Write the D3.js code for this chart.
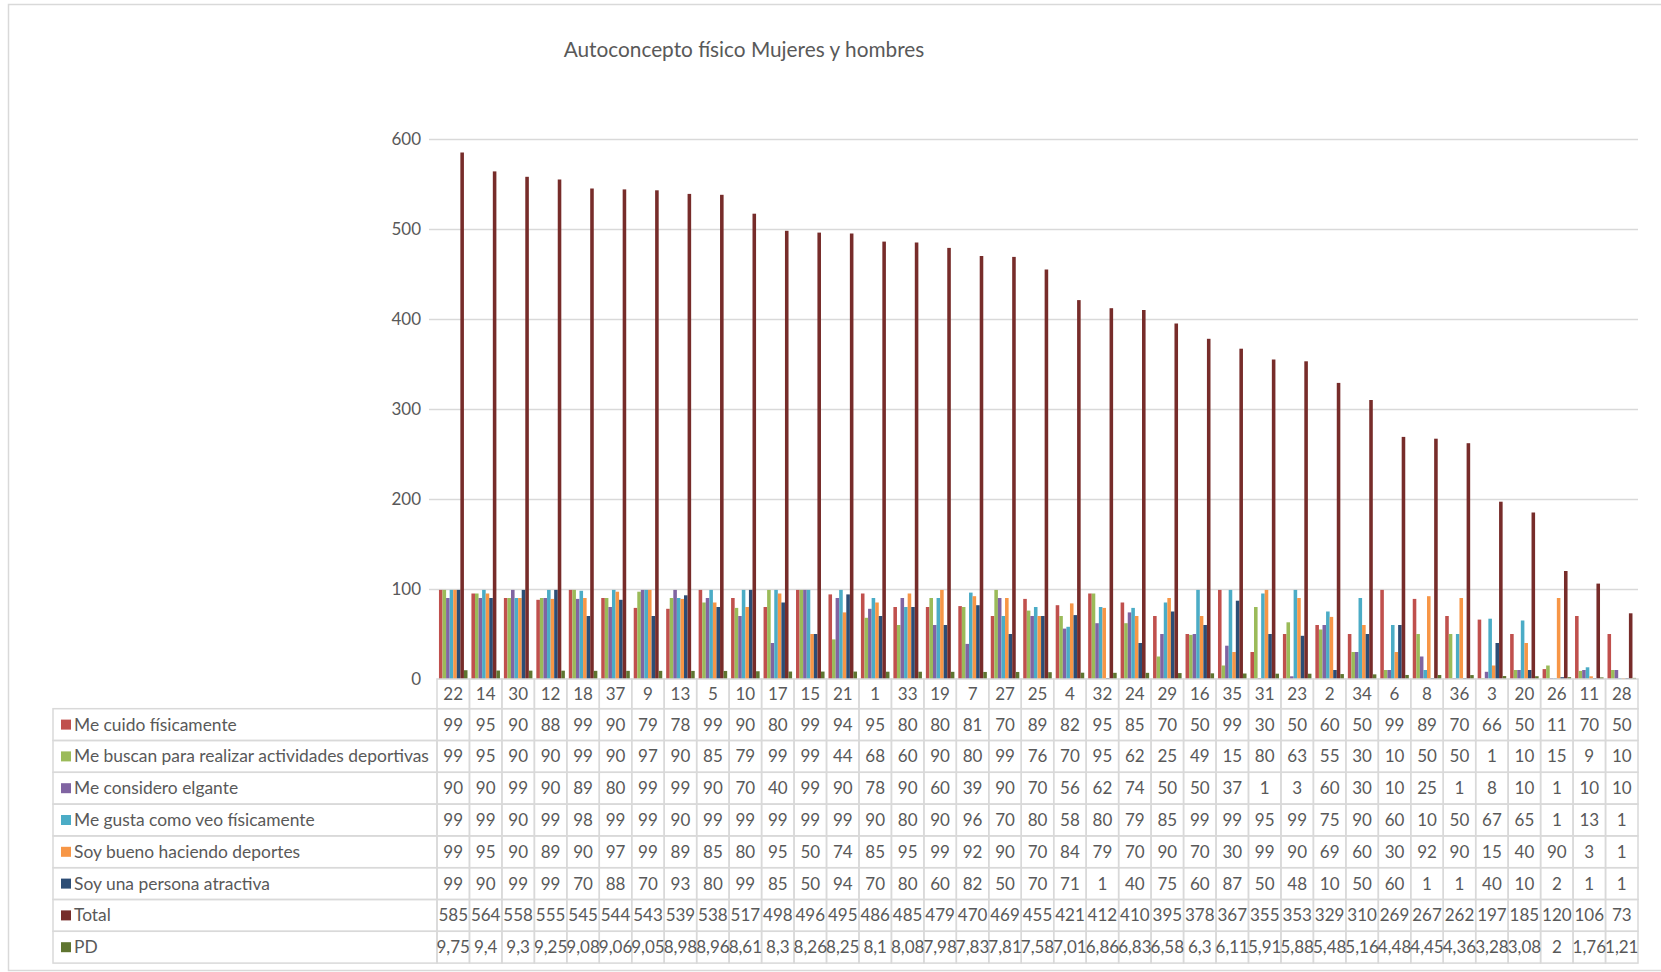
<!DOCTYPE html>
<html><head><meta charset="utf-8">
<script src="https://cdn.jsdelivr.net/npm/d3@7"></script>
<style>
html,body{margin:0;padding:0;background:#fff;}
svg{display:block;font-family:"Lato","Open Sans",sans-serif;}
</style></head>
<body>
<svg id="c" width="1661" height="972"></svg>
<script>
const title = "Autoconcepto físico Mujeres y hombres";
const categories = ["22","14","30","12","18","37","9","13","5","10","17","15","21","1","33","19","7","27","25","4","32","24","29","16","35","31","23","2","34","6","8","36","3","20","26","11","28"];
const seriesNames = ["Me cuido físicamente","Me buscan para realizar actividades deportivas","Me considero elgante","Me gusta como veo físicamente","Soy bueno haciendo deportes","Soy una persona atractiva","Total","PD"];
const seriesColors = ["#C0504D","#9BBB59","#8064A2","#4BACC6","#F79646","#2C4D75","#772C2A","#5F7530"];
const meCuido = [99,95,90,88,99,90,79,78,99,90,80,99,94,95,80,80,81,70,89,82,95,85,70,50,99,30,50,60,50,99,89,70,66,50,11,70,50];
const meBuscan = [99,95,90,90,99,90,97,90,85,79,99,99,44,68,60,90,80,99,76,70,95,62,25,49,15,80,63,55,30,10,50,50,1,10,15,9,10];
const meConsidero = [90,90,99,90,89,80,99,99,90,70,40,99,90,78,90,60,39,90,70,56,62,74,50,50,37,1,3,60,30,10,25,1,8,10,1,10,10];
const meGusta = [99,99,90,99,98,99,99,90,99,99,99,99,99,90,80,90,96,70,80,58,80,79,85,99,99,95,99,75,90,60,10,50,67,65,1,13,1];
const soyBueno = [99,95,90,89,90,97,99,89,85,80,95,50,74,85,95,99,92,90,70,84,79,70,90,70,30,99,90,69,60,30,92,90,15,40,90,3,1];
const soyAtractiva = [99,90,99,99,70,88,70,93,80,99,85,50,94,70,80,60,82,50,70,71,1,40,75,60,87,50,48,10,50,60,1,1,40,10,2,1,1];
const total = [585,564,558,555,545,544,543,539,538,517,498,496,495,486,485,479,470,469,455,421,412,410,395,378,367,355,353,329,310,269,267,262,197,185,120,106,73];
const pd = [9.75,9.4,9.3,9.25,9.08,9.06,9.05,8.98,8.96,8.61,8.3,8.26,8.25,8.1,8.08,7.98,7.83,7.81,7.58,7.01,6.86,6.83,6.58,6.3,6.11,5.91,5.88,5.48,5.16,4.48,4.45,4.36,3.28,3.08,2,1.76,1.21];
const yTicks = [0,100,200,300,400,500,600];

const seriesValues = [meCuido, meBuscan, meConsidero, meGusta, soyBueno, soyAtractiva, total, pd];

const svg = d3.select("#c");
const textCol = "#595959", gridCol = "#D9D9D9";
const plotL = 437, plotR = 1638, plotT = 139, plotB = 679;
const headH = 29.7, rowH = 31.8, legL = 53;
const numFont = "17px", legFont = "17.4px";

// chart border
svg.append("rect").attr("x",8.5).attr("y",4.5).attr("width",1700).attr("height",966)
  .attr("fill","none").attr("stroke",gridCol).attr("stroke-width",1.5);

const x = d3.scaleBand().domain(categories).range([plotL, plotR]);
const xs = d3.scaleBand().domain(seriesNames).range([0, x.bandwidth()]).paddingInner(0).paddingOuter(0.55);
const y = d3.scaleLinear().domain([0,600]).range([plotB, plotT]);

// gridlines
svg.append("g").selectAll("line").data(yTicks.filter(d=>d>0)).join("line")
  .attr("x1",429).attr("x2",plotR).attr("y1",d=>Math.round(y(d))+0.5).attr("y2",d=>Math.round(y(d))+0.5)
  .attr("stroke",gridCol).attr("stroke-width",1.5);

// y axis labels
const yAxis = d3.axisLeft(y).tickValues(yTicks).tickSize(0).tickPadding(0);
const ga = svg.append("g").attr("transform",`translate(421,0)`).call(yAxis);
ga.select(".domain").remove();
ga.selectAll("text").attr("fill",textCol).style("font-size","17px").style("font-family","Lato, 'Open Sans', sans-serif");

// title
svg.append("text").attr("x",744).attr("y",57).attr("text-anchor","middle")
  .attr("fill",textCol).style("font-size","20.8px").text(title);

// bars
const groups = svg.append("g").selectAll("g").data(categories).join("g")
  .attr("transform",d=>`translate(${x(d)},0)`);
groups.selectAll("rect").data((c,i)=>seriesNames.map((s,k)=>({s, k, v: seriesValues[k][i]}))).join("rect")
  .attr("x",d=>xs(d.s)).attr("width",xs.bandwidth())
  .attr("y",d=>y(d.v)).attr("height",d=>y(0)-y(d.v))
  .attr("fill",d=>seriesColors[d.k]);

// data table
const tbl = svg.append("g");
tbl.selectAll("rect.h").data(categories).join("rect").attr("class","h")
  .attr("x",d=>x(d)).attr("y",plotB).attr("width",x.bandwidth()).attr("height",headH)
  .attr("fill","none").attr("stroke",gridCol).attr("stroke-width",1.5);
tbl.selectAll("text.h").data(categories).join("text").attr("class","h")
  .attr("x",d=>x(d)+x.bandwidth()/2).attr("y",plotB+headH/2+6).attr("text-anchor","middle")
  .attr("fill",textCol).style("font-size",numFont).text(d=>d);

const rowTop = k => plotB + headH + k*rowH;
const fmt = v => String(v).replace(".",",");
seriesNames.forEach((s,k)=>{
  const ry = rowTop(k);
  tbl.append("rect").attr("x",legL).attr("y",ry).attr("width",plotL-legL).attr("height",rowH)
    .attr("fill","none").attr("stroke",gridCol).attr("stroke-width",1.5);
  tbl.append("rect").attr("x",61).attr("y",ry+rowH/2-5).attr("width",10).attr("height",10).attr("fill",seriesColors[k]);
  tbl.append("text").attr("x",74).attr("y",ry+rowH/2+6).attr("fill",textCol).style("font-size",legFont).text(s);
  tbl.append("g").selectAll("rect").data(categories).join("rect")
    .attr("x",d=>x(d)).attr("y",ry).attr("width",x.bandwidth()).attr("height",rowH)
    .attr("fill","none").attr("stroke",gridCol).attr("stroke-width",1.5);
  tbl.append("g").selectAll("text").data(categories).join("text")
    .attr("x",d=>x(d)+x.bandwidth()/2).attr("y",ry+rowH/2+6).attr("text-anchor","middle")
    .attr("fill",textCol).style("font-size",numFont).text((d,i)=>fmt(seriesValues[k][i]));
});
</script>
</body></html>
